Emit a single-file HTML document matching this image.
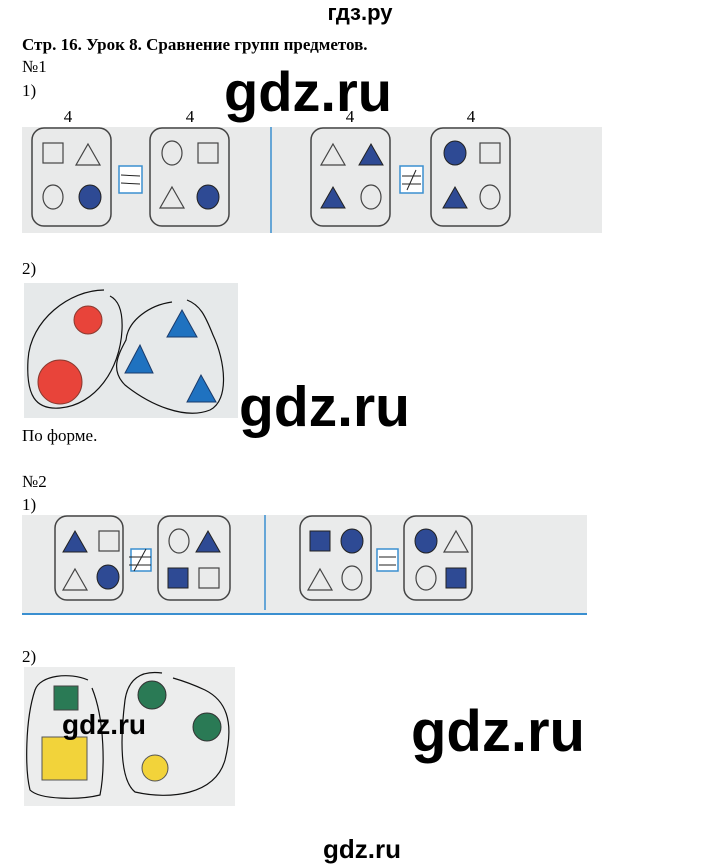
<!DOCTYPE html>
<html><head><meta charset="utf-8"><style>
body{margin:0;background:#fff;width:720px;height:865px;overflow:hidden}
svg{display:block}
.t{font-family:"Liberation Serif",serif;font-size:17px;fill:#000}
.w{font-family:"Liberation Sans",sans-serif;font-weight:bold;fill:#000}
</style></head><body>
<svg width="720" height="865" viewBox="0 0 720 865" xmlns="http://www.w3.org/2000/svg">
<defs>
<g id="sq"><rect x="-10" y="-10" width="20" height="20" fill="none" stroke="#444" stroke-width="1.2"/></g>
<g id="sqf"><rect x="-10" y="-10" width="20" height="20" fill="#2e4a94" stroke="#222" stroke-width="1"/></g>
<g id="tr"><polygon points="0,-11 12,10 -12,10" fill="none" stroke="#444" stroke-width="1.2"/></g>
<g id="trf"><polygon points="0,-11 12,10 -12,10" fill="#2e4a94" stroke="#222" stroke-width="1"/></g>
<g id="ci"><ellipse rx="10" ry="12" fill="none" stroke="#444" stroke-width="1.2"/></g>
<g id="cif"><ellipse rx="11" ry="12" fill="#2e4a94" stroke="#222" stroke-width="1"/></g>
</defs>
<text x="360" y="20" text-anchor="middle" class="w" font-size="22">гдз.ру</text>
<text x="22" y="50" class="t" font-weight="bold">Стр. 16. Урок 8. Сравнение групп предметов.</text>
<text x="22" y="72" class="t">№1</text>
<text x="22" y="96" class="t">1)</text>

<!-- panel 1 -->
<rect x="22" y="127" width="580" height="106" fill="#e9eaea"/>
<line x1="271" y1="127" x2="271" y2="233" stroke="#3a8fd0" stroke-width="1.5"/>
<g class="t" font-size="17" text-anchor="middle"><text x="68" y="122">4</text><text x="190" y="122">4</text><text x="350" y="122">4</text><text x="471" y="122">4</text></g>
<text x="224" y="111" class="w" font-size="56">gdz.ru</text>
<g fill="none" stroke="#444" stroke-width="1.5">
<rect x="32" y="128" width="79" height="98" rx="12"/>
<rect x="150" y="128" width="79" height="98" rx="12"/>
<rect x="311" y="128" width="79" height="98" rx="12"/>
<rect x="431" y="128" width="79" height="98" rx="12"/>
</g>
<rect x="119" y="166" width="23" height="27" fill="#fff" stroke="#3a8fd0" stroke-width="1.5"/>
<line x1="121" y1="175" x2="140" y2="176" stroke="#222"/><line x1="121" y1="183" x2="140" y2="184" stroke="#222"/>
<rect x="400" y="166" width="23" height="27" fill="#fff" stroke="#3a8fd0" stroke-width="1.5"/>
<line x1="402" y1="176" x2="421" y2="176" stroke="#222"/><line x1="402" y1="184" x2="421" y2="184" stroke="#222"/><line x1="407" y1="190" x2="416" y2="170" stroke="#222"/>
<use href="#sq" x="53" y="153"/><use href="#tr" x="88" y="155"/><use href="#ci" x="53" y="197"/><use href="#cif" x="90" y="197"/>
<use href="#ci" x="172" y="153"/><use href="#sq" x="208" y="153"/><use href="#tr" x="172" y="198"/><use href="#cif" x="208" y="197"/>
<use href="#tr" x="333" y="155"/><use href="#trf" x="371" y="155"/><use href="#trf" x="333" y="198"/><use href="#ci" x="371" y="197"/>
<use href="#cif" x="455" y="153"/><use href="#sq" x="490" y="153"/><use href="#trf" x="455" y="198"/><use href="#ci" x="490" y="197"/>

<text x="22" y="274" class="t">2)</text>
<rect x="24" y="283" width="214" height="135" fill="#e6e9ea"/>
<circle cx="88" cy="320" r="14" fill="#e8443a" stroke="#8a3a30"/>
<circle cx="60" cy="382" r="22" fill="#e8443a" stroke="#8a3a30"/>
<polygon points="182,310 167,337 197,337" fill="#1f72c0" stroke="#1a3a6a"/>
<polygon points="140,345 125,373 153,373" fill="#1f72c0" stroke="#1a3a6a"/>
<polygon points="201,375 187,402 216,402" fill="#1f72c0" stroke="#1a3a6a"/>
<path d="M104,290 C70,290 30,320 28,360 C26,395 35,410 60,408 C95,405 120,370 122,330 C123,310 118,300 110,296" fill="none" stroke="#111" stroke-width="1.2"/>
<path d="M172,302 C150,305 128,320 126,340 C118,355 110,370 125,385 C150,405 185,420 210,410 C230,400 225,360 213,335 C205,315 200,305 187,300" fill="none" stroke="#111" stroke-width="1.2"/>
<text x="239" y="426" class="w" font-size="57">gdz.ru</text>
<text x="22" y="441" class="t">По форме.</text>

<text x="22" y="487" class="t">№2</text>
<text x="22" y="510" class="t">1)</text>
<rect x="22" y="515" width="565" height="99" fill="#eaebeb"/>
<line x1="22" y1="614" x2="587" y2="614" stroke="#3a8fd0" stroke-width="2"/>
<line x1="265" y1="515" x2="265" y2="610" stroke="#3a8fd0" stroke-width="1.5"/>
<g fill="none" stroke="#444" stroke-width="1.5">
<rect x="55" y="516" width="68" height="84" rx="12"/>
<rect x="158" y="516" width="72" height="84" rx="12"/>
<rect x="300" y="516" width="71" height="84" rx="12"/>
<rect x="404" y="516" width="68" height="84" rx="12"/>
</g>
<rect x="131" y="549" width="20" height="22" fill="#fff" stroke="#3a8fd0" stroke-width="1.5"/>
<line x1="129" y1="557" x2="151" y2="557" stroke="#222"/><line x1="129" y1="565" x2="151" y2="565" stroke="#222"/><line x1="134" y1="571" x2="146" y2="549" stroke="#222"/>
<rect x="377" y="549" width="21" height="22" fill="#fff" stroke="#3a8fd0" stroke-width="1.5"/>
<line x1="379" y1="557" x2="396" y2="557" stroke="#222"/><line x1="379" y1="565" x2="396" y2="565" stroke="#222"/>
<use href="#trf" x="75" y="542"/><use href="#sq" x="109" y="541"/><use href="#tr" x="75" y="580"/><use href="#cif" x="108" y="577"/>
<use href="#ci" x="179" y="541"/><use href="#trf" x="208" y="542"/><use href="#sqf" x="178" y="578"/><use href="#sq" x="209" y="578"/>
<use href="#sqf" x="320" y="541"/><use href="#cif" x="352" y="541"/><use href="#tr" x="320" y="580"/><use href="#ci" x="352" y="578"/>
<use href="#cif" x="426" y="541"/><use href="#tr" x="456" y="542"/><use href="#ci" x="426" y="578"/><use href="#sqf" x="456" y="578"/>

<text x="22" y="662" class="t">2)</text>
<rect x="24" y="667" width="211" height="139" fill="#eceded"/>
<rect x="54" y="686" width="24" height="24" fill="#2a7a55" stroke="#444"/>
<rect x="42" y="737" width="45" height="43" fill="#f2d33a" stroke="#555"/>
<circle cx="152" cy="695" r="14" fill="#2a7a55" stroke="#333"/>
<circle cx="207" cy="727" r="14" fill="#2a7a55" stroke="#333"/>
<circle cx="155" cy="768" r="13" fill="#f2d33a" stroke="#555"/>
<path d="M88,680 C70,672 40,675 35,690 C25,720 25,770 30,790 C40,800 80,800 100,795 C105,770 105,720 92,688" fill="none" stroke="#111" stroke-width="1.2"/>
<path d="M162,673 C140,670 128,680 125,700 C120,740 120,780 135,792 C170,800 215,795 225,760 C235,720 225,700 205,690 C190,683 180,680 173,678" fill="none" stroke="#111" stroke-width="1.2"/>
<text x="62" y="734" class="w" font-size="28">gdz.ru</text>
<text x="411" y="751" class="w" font-size="58">gdz.ru</text>
<text x="323" y="858" class="w" font-size="26">gdz.ru</text>
</svg>
</body></html>
